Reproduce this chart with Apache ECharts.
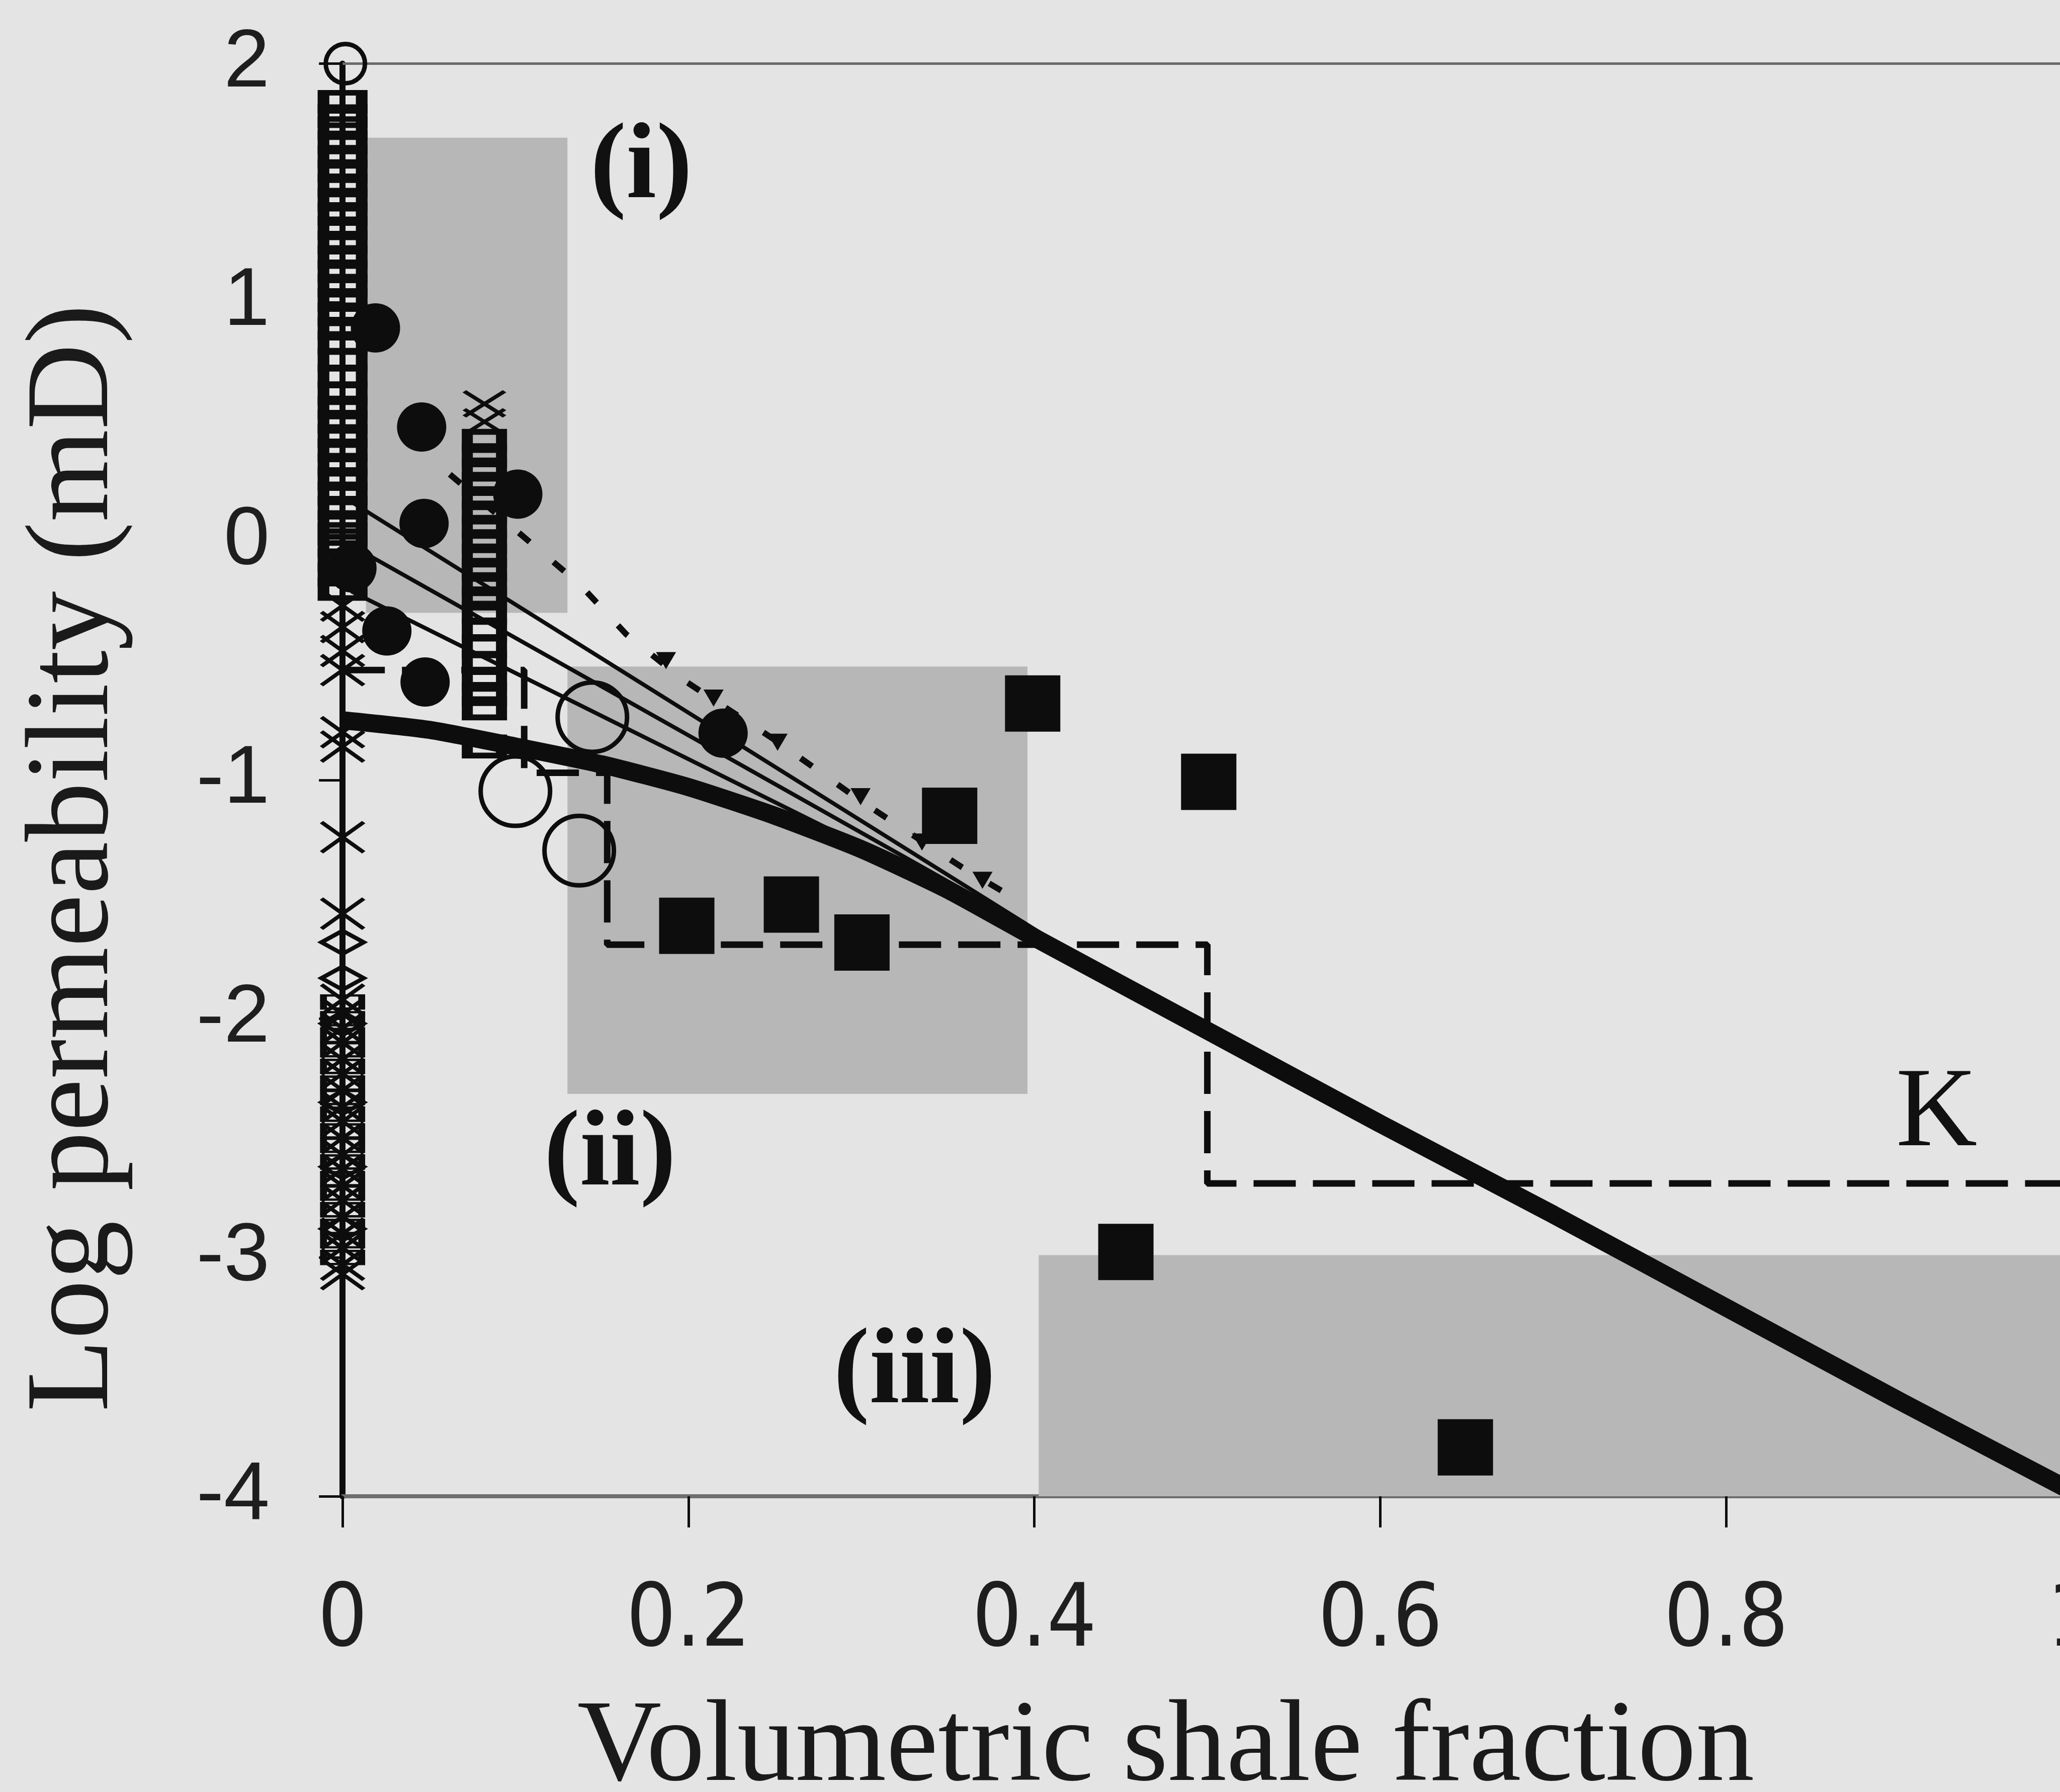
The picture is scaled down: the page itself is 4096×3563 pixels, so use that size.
<!DOCTYPE html>
<html><head><meta charset="utf-8">
<script src="https://cdn.jsdelivr.net/npm/echarts@6/dist/echarts.min.js"></script>
<style>html,body{margin:0;padding:0;background:#e4e4e4;}#c{width:4096px;height:3563px;}</style>
</head><body><div id="c"></div>
<script>
// ---------- data ----------
const xTickValues = [0, 0.2, 0.4, 0.6, 0.8, 1];
const yTickValues = [-4, -3, -2, -1, 0, 1, 2];

// shaded regions [x1, y1, x2, y2]
const regionI   = [0.0135, 1.69, 0.13, -0.30];
const regionII  = [0.13, -0.525, 0.396, -2.315];
const regionIII = [0.4025, -2.99, 1.0, -4.0];

// open squares, column at x = 0 and column at x = 0.082
const openSqCol0Y = [1.84, 1.78, 1.73, 1.67, 1.61, 1.55, 1.49, 1.43, 1.37, 1.31, 1.25, 1.19, 1.13, 1.07, 1.01, 0.95, 0.89, 0.83, 0.76, 0.69, 0.62, 0.56, 0.50, 0.44, 0.38, 0.32, 0.26, 0.20, 0.14, 0.08, 0.03, -0.02, -0.08, -0.14, -0.20];
const openSqCol1X = 0.082;
const openSqCol1Y = [0.42, 0.36, 0.30, 0.24, 0.18, 0.12, 0.06, 0.0, -0.06, -0.12, -0.18, -0.24, -0.30, -0.37, -0.44, -0.51, -0.58, -0.64, -0.70, -0.86];
// open squares in the dense low-permeability part of the x = 0 column
const openSqLowY = [-1.93, -2.0, -2.07, -2.13, -2.2, -2.27, -2.33, -2.4, -2.47, -2.53, -2.6, -2.67, -2.73, -2.8, -2.87, -2.93, -3.0];

// crosses
const crossCol0Y = [-0.27, -0.36, -0.46, -0.54, -0.80, -0.86, -1.24, -1.56, -1.92, -1.98, -2.04, -2.10, -2.17, -2.23, -2.30, -2.37, -2.43, -2.50, -2.57, -2.63, -2.70, -2.76, -2.83, -2.90, -2.96, -3.03, -3.07];
const crossCol1Y = [0.575, 0.50];

// open diamonds at x = 0
const diamondY = [-1.68, -1.83, -2.02, -2.35, -2.62, -2.88];

// filled circles
const dotX = [0.019, 0.0457, 0.0471, 0.1013, 0.0054, 0.0256, 0.0477, 0.22];
const dotY = [0.893, 0.478, 0.074, 0.197, -0.112, -0.376, -0.59, -0.804];

// open circles
const ringX = [0.1444, 0.0999, 0.1368];
const ringY = [-0.737, -1.047, -1.296];
const smallRingX = [0.0016];
const smallRingY = [2.0];

// filled squares
const sqX = [0.199, 0.2595, 0.3003, 0.351, 0.399, 0.4529, 0.5008, 0.6492];
const sqY = [-1.611, -1.522, -1.681, -1.15, -0.68, -2.977, -1.008, -3.795];

// down triangles on dotted trend
const triX = [0.187, 0.2145, 0.2515, 0.2995, 0.335, 0.37];
const triY = [-0.50, -0.657, -0.842, -1.07, -1.26, -1.42];

// thick model curve
const thickX = [0, 0.05, 0.1, 0.15, 0.2, 0.25, 0.3, 0.35, 0.4, 0.5, 0.6, 0.7, 0.8, 0.9, 1.0];
const thickY = [-0.75, -0.79, -0.86, -0.935, -1.03, -1.15, -1.29, -1.46, -1.66, -2.05, -2.44, -2.82, -3.21, -3.6, -3.98];

// thin trend lines
const lineAX = [0.005, 0.41], lineAY = [0.165, -1.67];
const lineBX = [0.005, 0.41], lineBY = [-0.018, -1.67];
const lineCX = [0.005, 0.41], lineCY = [-0.21, -1.67];
// dotted trend
const lineDX = [0.062, 0.137, 0.164, 0.196, 0.2515, 0.30, 0.358, 0.394];
const lineDY = [0.28, -0.18, -0.39, -0.576, -0.84, -1.09, -1.365, -1.52];

// K step bound (dashed)
const kX = [0, 0.105, 0.105, 0.153, 0.153, 0.5, 0.5, 1.0];
const kY = [-0.54, -0.54, -0.97, -0.97, -1.69, -1.69, -2.69, -2.69];

// annotations
const annoX = [0.1727, 0.1546, 0.3307, 0.9217];
const annoY = [1.558, -2.576, -3.49, -2.405];
const annoText = ['(i)', '(ii)', '(iii)', 'K'];

const xTitle = 'Volumetric shale fraction';
const yTitle = 'Log permeability (mD)';

// ---------- build ----------
const zip = (xs, ys) => ys.map((y, i) => [Array.isArray(xs) ? xs[i] : xs, y]);
const rect = r => [{coord: [r[0], r[1]]}, {coord: [r[2], r[3]]}];

const crossPath = 'path://M0 0L10 10M10 0L0 10';
const ink = '#0d0d0d';
const hollow = (w) => ({color: 'transparent', borderColor: ink, borderWidth: w, opacity: 1});
const solid = {color: ink, opacity: 1};

const chart = echarts.init(document.getElementById('c'), null, {renderer: 'canvas'});
chart.setOption({
  backgroundColor: '#e4e4e4',
  animation: false,
  grid: {left: 681.2, right: -24, top: 126.5, bottom: 588, containLabel: false, outerBoundsMode: 'none'},
  xAxis: [{
    type: 'value', min: 0, max: 1, interval: 0.2, position: 'bottom',
    axisLine: {show: true, onZero: false, lineStyle: {color: '#6e6e6e', width: 8}},
    axisTick: {show: true, inside: false, length: 62, lineStyle: {color: ink, width: 5}},
    axisLabel: {show: true, margin: 166, fontSize: 173, color: '#1e1e1e',
      fontFamily: '"Liberation Sans Narrow", "DejaVu Sans Condensed", "Liberation Sans", sans-serif',
      formatter: v => String(v)},
    splitLine: {show: false}
  }, {
    type: 'value', min: 0, max: 1, position: 'top',
    axisLine: {show: true, onZero: false, lineStyle: {color: '#6a6a6a', width: 5}},
    axisTick: {show: false}, axisLabel: {show: false}, splitLine: {show: false}
  }],
  yAxis: {
    type: 'value', min: -4, max: 2, interval: 1,
    axisLine: {show: true, onZero: false, lineStyle: {color: ink, width: 12}},
    axisTick: {show: true, inside: false, length: 47, lineStyle: {color: ink, width: 5}},
    axisLabel: {show: true, margin: 145, fontSize: 164, color: '#1e1e1e',
      fontFamily: '"Liberation Sans", Arial, sans-serif'},
    splitLine: {show: false}
  },
  graphic: [
    {type: 'text', x: 2318, y: 3478, silent: true,
     style: {text: xTitle, font: '232px "Liberation Serif", "Times New Roman", serif', fill: '#1a1a1a', align: 'center', verticalAlign: 'middle'}},
    {type: 'text', x: 151, y: 1706, rotation: Math.PI / 2, silent: true,
     style: {text: yTitle, font: '236px "Liberation Serif", "Times New Roman", serif', fill: '#1a1a1a', align: 'center', verticalAlign: 'middle'}}
  ],
  series: [
    {type: 'scatter', name: 'regions', z: 1, data: [], silent: true,
     markArea: {silent: true, itemStyle: {color: '#b7b7b7', opacity: 1, borderWidth: 0}, label: {show: false},
       data: [rect(regionI), rect(regionII), rect(regionIII)]}},
    {type: 'line', name: 'K', z: 3, clip: false, silent: true, symbol: 'none',
     data: zip(kX, kY), lineStyle: {color: ink, width: 13, type: [84, 34], opacity: 1}},
    {type: 'line', name: 'trendA', z: 3, clip: false, silent: true, symbol: 'none',
     data: zip(lineAX, lineAY), lineStyle: {color: ink, width: 8, opacity: 1}},
    {type: 'line', name: 'trendB', z: 3, clip: false, silent: true, symbol: 'none',
     data: zip(lineBX, lineBY), lineStyle: {color: ink, width: 8, opacity: 1}},
    {type: 'line', name: 'trendC', z: 3, clip: false, silent: true, symbol: 'none',
     data: zip(lineCX, lineCY), lineStyle: {color: ink, width: 8, opacity: 1}},
    {type: 'line', name: 'trendD', z: 3, clip: false, silent: true, symbol: 'none',
     data: zip(lineDX, lineDY), lineStyle: {color: ink, width: 12, type: [28, 62], opacity: 1}},
    {type: 'line', name: 'model', z: 4, clip: false, silent: true, symbol: 'none', smooth: 0.2,
     data: zip(thickX, thickY), lineStyle: {color: ink, width: 36, opacity: 1}},
    {type: 'scatter', name: 'openSq0', z: 5, clip: false, silent: true, symbol: 'rect', symbolSize: [76, 36],
     data: zip(0, openSqCol0Y), itemStyle: hollow(16)},
    {type: 'scatter', name: 'openSqLow', z: 5, clip: false, silent: true, symbol: 'rect', symbolSize: [76, 26],
     data: zip(0, openSqLowY), itemStyle: hollow(8)},
    {type: 'scatter', name: 'openSq1', z: 5, clip: false, silent: true, symbol: 'rect', symbolSize: [68, 36],
     data: zip(openSqCol1X, openSqCol1Y), itemStyle: hollow(16)},
    {type: 'scatter', name: 'cross0', z: 5, clip: false, silent: true, symbol: crossPath, symbolSize: [84, 60],
     data: zip(0, crossCol0Y), itemStyle: hollow(8)},
    {type: 'scatter', name: 'cross1', z: 5, clip: false, silent: true, symbol: crossPath, symbolSize: [80, 50],
     data: zip(openSqCol1X, crossCol1Y), itemStyle: hollow(8)},
    {type: 'scatter', name: 'diamond', z: 5, clip: false, silent: true, symbol: 'diamond', symbolSize: [84, 46],
     data: zip(0, diamondY), itemStyle: hollow(9)},
    {type: 'scatter', name: 'dots', z: 6, clip: false, silent: true, symbol: 'circle', symbolSize: 98,
     data: zip(dotX, dotY), itemStyle: solid},
    {type: 'scatter', name: 'rings', z: 6, clip: false, silent: true, symbol: 'circle', symbolSize: 138,
     data: zip(ringX, ringY), itemStyle: hollow(9)},
    {type: 'scatter', name: 'smallRing', z: 6, clip: false, silent: true, symbol: 'circle', symbolSize: 78,
     data: zip(smallRingX, smallRingY), itemStyle: hollow(9)},
    {type: 'scatter', name: 'squares', z: 6, clip: false, silent: true, symbol: 'rect', symbolSize: [110, 112],
     data: zip(sqX, sqY), itemStyle: solid},
    {type: 'scatter', name: 'tri', z: 6, clip: false, silent: true, symbol: 'triangle', symbolRotate: 180, symbolSize: [40, 34],
     data: zip(triX, triY), itemStyle: solid},
    {type: 'scatter', name: 'labels', z: 7, clip: false, silent: true, symbolSize: 0,
     itemStyle: {opacity: 1},
     data: annoText.map((t, i) => ({value: [annoX[i], annoY[i]], name: t,
       label: t === 'K' ? {fontWeight: 'normal', fontSize: 224} : {}})),
     label: {show: true, position: 'inside', formatter: p => p.name, color: '#111', opacity: 1,
       fontFamily: '"Liberation Serif", "Times New Roman", serif', fontWeight: 'bold', fontSize: 215}}
  ]
});
</script></body></html>
